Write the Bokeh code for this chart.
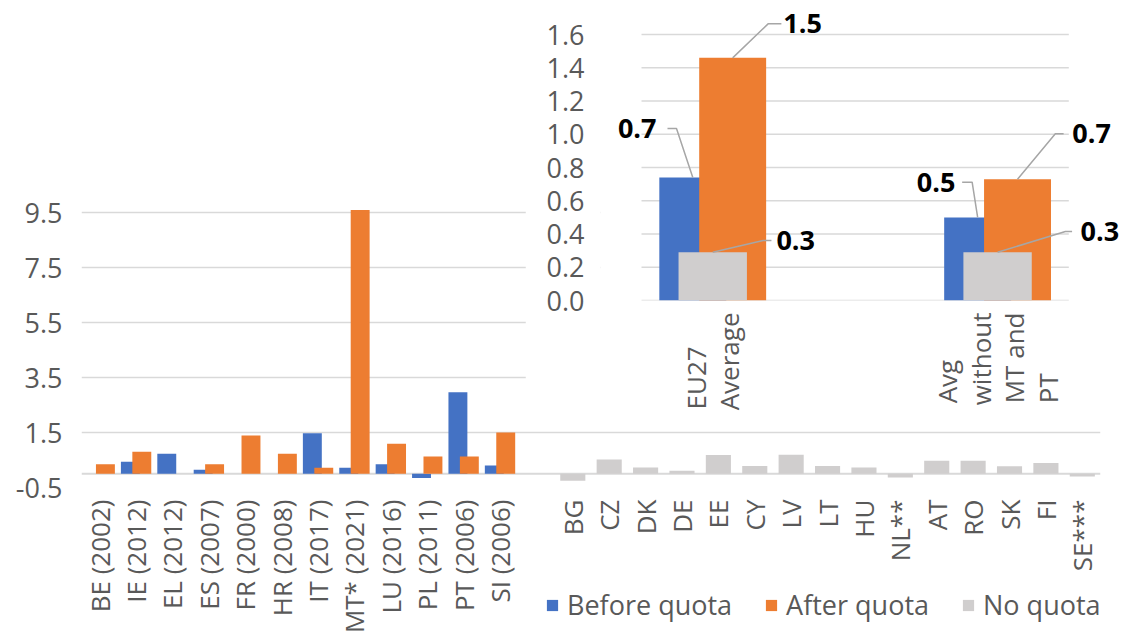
import math
from bokeh.plotting import figure
from bokeh.models import (FactorRange, Range1d, FixedTicker, PrintfTickFormatter,
                          Span, Legend, LegendItem, ColumnDataSource)
from bokeh.transform import dodge
from bokeh.embed import file_html
from bokeh.resources import INLINE
from bokeh.core.properties import value

# ---------------- data ----------------
quota_countries = ["BE (2002)", "IE (2012)", "EL (2012)", "ES (2007)", "FR (2000)", "HR (2008)",
                   "IT (2017)", "MT* (2021)", "LU (2016)", "PL (2011)", "PT (2006)", "SI (2006)"]
before_quota = [None, 0.44, 0.73, 0.15, None, None, 1.47, 0.22, 0.35, -0.15, 2.96, 0.30]
after_quota = [0.35, 0.80, None, 0.35, 1.39, 0.73, 0.22, 9.59, 1.09, 0.63, 0.63, 1.50]

noquota_countries = ["BG", "CZ", "DK", "DE", "EE", "CY", "LV", "LT", "HU", "NL**",
                     "AT", "RO", "SK", "FI", "SE***"]
no_quota = [-0.25, 0.52, 0.23, 0.11, 0.68, 0.28, 0.69, 0.28, 0.23, -0.14,
            0.47, 0.47, 0.27, 0.39, -0.10]

main_ticks = [-0.5, 1.5, 3.5, 5.5, 7.5, 9.5]

summary_categories = [["EU27", "Average"], ["Avg", "without", "MT and", "PT"]]
summary_before = [0.74, 0.50]
summary_after = [1.46, 0.73]
summary_noquota = [0.29, 0.29]
inset_ticks = [0.0, 0.2, 0.4, 0.6, 0.8, 1.0, 1.2, 1.4, 1.6]

series_names = ["Before quota", "After quota", "No quota"]

# ---------------- style ----------------
FONT = "Open Sans"
TXT = "#595959"
GRID = "#d9d9d9"
BLUE = "#4472C4"
ORANGE = "#ED7D31"
LGRAY = "#D0CECE"
FS = "26px"


def style_axes(fig, size=FS):
    for ax in fig.axis:
        ax.axis_line_color = None
        ax.major_tick_line_color = None
        ax.minor_tick_line_color = None
        ax.major_tick_out = 0
        ax.major_tick_in = 0
        ax.minor_tick_out = 0
        ax.minor_tick_in = 0
        ax.major_label_text_font = FONT
        ax.major_label_text_font_size = size
        ax.major_label_text_color = TXT


def absolute(left, top):
    return {"position": "absolute", "left": "%dpx" % left, "top": "%dpx" % top}


# ---------------- main chart ----------------
factors = quota_countries + [" "] + noquota_countries
p = figure(width=1113, height=639, x_range=FactorRange(factors=factors),
           y_range=Range1d(-0.5, 9.9), output_backend="svg", toolbar_location=None,
           min_border_left=81, min_border_right=13, min_border_top=201, min_border_bottom=152)
p.outline_line_color = None
p.background_fill_color = "white"
p.border_fill_color = "white"
p.xgrid.visible = False
p.ygrid.grid_line_color = GRID
p.ygrid.grid_line_width = 1.5
p.yaxis.ticker = FixedTicker(ticks=main_ticks)
p.yaxis.formatter = PrintfTickFormatter(format="%.1f")
style_axes(p)
p.yaxis.major_label_text_font_size = "27px"
p.yaxis.major_label_standoff = 19
p.xaxis.major_label_standoff = 12
p.xaxis.major_label_orientation = math.pi / 2

zero = Span(location=0, dimension="width", line_color=GRID, line_width=2, level="underlay")
p.add_layout(zero)


def keep(cats, vals):
    pairs = [(c, v) for c, v in zip(cats, vals) if v is not None]
    return dict(x=[c for c, _ in pairs], top=[v for _, v in pairs])


src_b = ColumnDataSource(keep(quota_countries, before_quota))
src_a = ColumnDataSource(keep(quota_countries, after_quota))
src_n = ColumnDataSource(keep(noquota_countries, no_quota))

p.vbar(x=dodge("x", -0.157, range=p.x_range), top="top", bottom=0, width=0.52,
       source=src_b, fill_color=BLUE, line_color=None)
p.vbar(x=dodge("x", 0.157, range=p.x_range), top="top", bottom=0, width=0.52,
       source=src_a, fill_color=ORANGE, line_color=None)
p.vbar(x="x", top="top", bottom=0, width=0.69,
       source=src_n, fill_color=LGRAY, line_color=None)

# ---------------- legend (own small canvas) ----------------
leg = figure(width=570, height=38, x_range=Range1d(0, 1), y_range=Range1d(0, 1),
             x_axis_type=None, y_axis_type=None,
             output_backend="svg", toolbar_location=None, min_border=0,
             styles=absolute(545, 586))
leg.outline_line_color = None
leg.grid.visible = False
leg_renderers = []
for col in (BLUE, ORANGE, LGRAY):
    # off-canvas swatch carrier (only used for the legend key)
    leg_renderers.append(leg.vbar(x=[-10], top=[-10], bottom=[-11], width=0.5,
                                  fill_color=col, line_color=None))
legend = Legend(items=[LegendItem(label=value(n), renderers=[r])
                       for n, r in zip(series_names, leg_renderers)],
                orientation="horizontal", location="top_left",
                label_text_font=FONT, label_text_font_size="27px", label_text_color=TXT,
                glyph_width=14, glyph_height=14, label_standoff=8, spacing=32,
                padding=0, margin=0, border_line_color=None, background_fill_alpha=0)
leg.add_layout(legend, "center")

# ---------------- inset chart ----------------
IN_LEFT = 75          # left border of the inset canvas
IN_FW = 595 - IN_LEFT  # inset frame width
X0 = -0.788
X1 = 2.863
inset = figure(width=595, height=425, x_range=Range1d(X0, X1), y_range=Range1d(0, 1.805),
               output_backend="svg", toolbar_location=None,
               min_border_left=IN_LEFT, min_border_right=0, min_border_top=0,
               min_border_bottom=125, styles=absolute(525, 0))
inset.outline_line_color = None
inset.background_fill_color = "white"
inset.border_fill_color = "white"
inset.xgrid.visible = False
inset.ygrid.visible = False
style_axes(inset)
inset.yaxis.major_label_text_font_size = "27px"
inset.yaxis.ticker = FixedTicker(ticks=inset_ticks)
inset.yaxis.formatter = PrintfTickFormatter(format="%.1f")
inset.yaxis.major_label_standoff = 16

pos = [2 * i for i in range(len(summary_categories))]


def pad_lines(lines):
    # start-align the wrapped lines of a rotated label (NBSP padding, ~0.26 em each)
    w = {"EU27": 2.43, "Average": 3.77, "Avg": 1.68, "without": 3.57, "MT and": 3.5, "PT": 1.16}
    m = max(w[l] for l in lines)
    return "\n".join(l + "\u00a0" * int(round((m - w[l]) / 0.26)) for l in lines)


inset.xaxis.ticker = FixedTicker(ticks=pos)
inset.xaxis.major_label_overrides = {pp: pad_lines(c) for pp, c in zip(pos, summary_categories)}
inset.xaxis.major_label_orientation = math.pi / 2
inset.xaxis.major_label_standoff = 12
inset.xaxis.major_label_text_line_height = 0.93

inset.segment(x0=-0.5, x1=2.5, y0=inset_ticks, y1=inset_ticks,
              line_color=GRID, line_width=1.5, level="underlay")

OFF = 0.14
W = 0.47
inset.vbar(x=[q - OFF for q in pos], top=summary_before, bottom=0, width=W,
           fill_color=BLUE, line_color=None)
inset.vbar(x=[q + OFF for q in pos], top=summary_after, bottom=0, width=W,
           fill_color=ORANGE, line_color=None)
inset.vbar(x=pos, top=summary_noquota, bottom=0, width=0.48,
           fill_color=LGRAY, line_color=None)

# data labels with leader lines (offsets in pixels from the bar top)
SX = IN_FW / (X1 - X0)
SY = 300 / 1.805
leader = {
    # per category: (knee_dx, knee_dy, end_dx, text_dx, align)
    "before": [(-16.3, -49, -25.3, -36.3, "right"), (-5.5, -35.2, -15.5, -22.2, "right")],
    "after": [(35.4, -34, 48.7, 50.7, "left"), (37.8, -45.4, 46.1, 54.8, "left")],
    "noquota": [(50.4, -11.8, 58.7, 63.7, "left"), (67.8, -20.8, 74.5, 83.0, "left")],
}
series = [("before", summary_before, -OFF), ("after", summary_after, OFF),
          ("noquota", summary_noquota, 0.0)]
xs, ys = [], []
lab = {"left": dict(x=[], y=[], t=[]), "right": dict(x=[], y=[], t=[])}
for key, vals, off in series:
    for q, v, (kdx, kdy, edx, tdx, al) in zip(pos, vals, leader[key]):
        ax0 = q + off
        ky = v - kdy / SY
        xs.append([ax0, ax0 + kdx / SX, ax0 + edx / SX])
        ys.append([v, ky, ky])
        lab[al]["x"].append(ax0 + tdx / SX)
        lab[al]["y"].append(ky)
        lab[al]["t"].append("%.1f" % v)

inset.multi_line(xs=xs, ys=ys, line_color="#a6a6a6", line_width=1.5)
for al in ("left", "right"):
    inset.text(x=lab[al]["x"], y=lab[al]["y"], text=lab[al]["t"], text_align=al,
               text_baseline="middle", text_font=value(FONT), text_font_style="bold",
               text_font_size="27px", text_color="black")

open("out.html", "w").write(file_html([p, inset, leg], INLINE))
